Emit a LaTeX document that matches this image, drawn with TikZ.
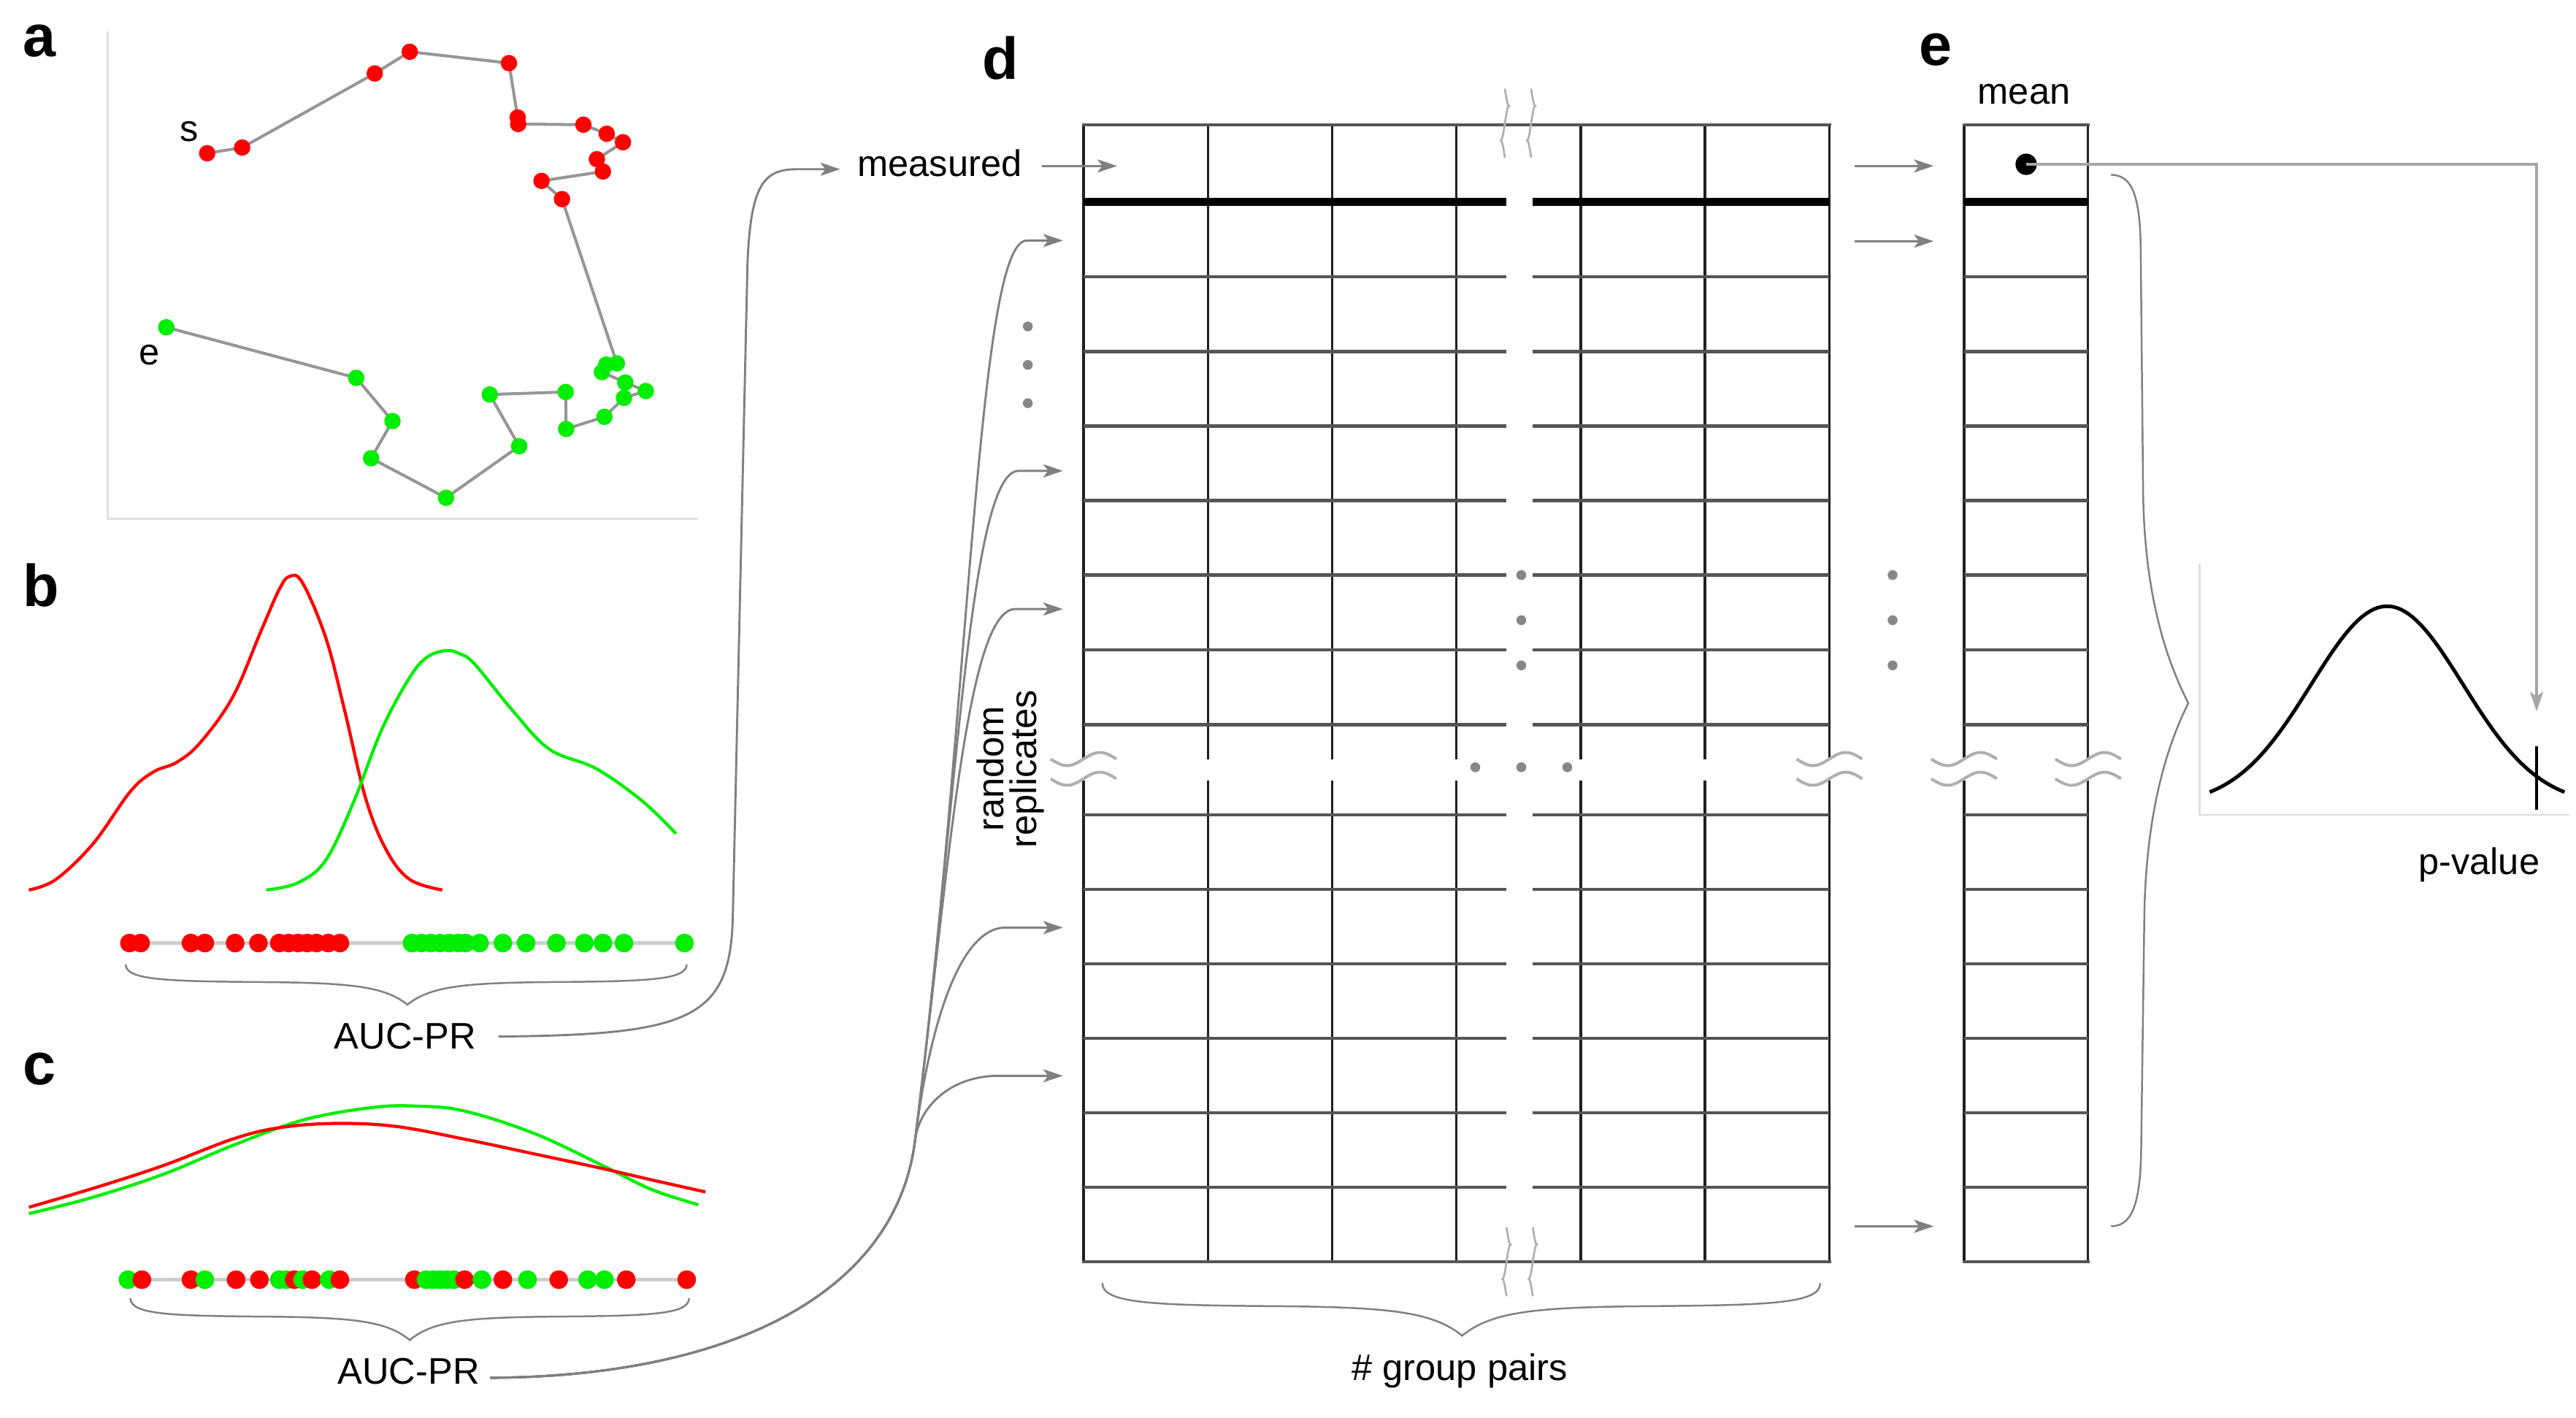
\documentclass[tikz,border=0pt]{standalone}
\usepackage{fontspec}
\setmainfont{Liberation Sans}
\usetikzlibrary{arrows.meta}
\definecolor{pred}{RGB}{255,0,0}
\definecolor{pgreen}{RGB}{0,238,0}
\definecolor{conng}{RGB}{128,128,128}
\definecolor{rowg}{RGB}{85,85,85}
\definecolor{axisg}{RGB}{222,222,222}
\definecolor{dotg}{RGB}{135,135,135}
\definecolor{trailg}{RGB}{150,150,150}
\definecolor{waveg}{RGB}{175,175,175}
\definecolor{lineg}{RGB}{205,205,205}
\definecolor{meang}{RGB}{165,165,165}
\newcommand{\mybrace}[5]{%
  \draw[brc] (#1,#4) .. controls (#1,{#4+0.4*#5}) and ({#1+0.15*(#2-#1)},{#4+0.42*#5}) .. ({(#1+#2)/2},{#4+0.44*#5})
    .. controls ({#2-0.2*(#2-#1)},{#4+0.46*#5}) and ({#2-0.08*(#2-#1)},{#4+0.55*#5}) .. (#2,{#4+#5})
    .. controls ({#2+0.08*(#3-#2)},{#4+0.55*#5}) and ({#2+0.2*(#3-#2)},{#4+0.46*#5}) .. ({(#2+#3)/2},{#4+0.44*#5})
    .. controls ({#3-0.15*(#3-#2)},{#4+0.42*#5}) and (#3,{#4+0.4*#5}) .. (#3,#4);}
\newcommand{\hwave}[2]{\draw[wav] ({#1-20},#2) sin ({#1-10},{#2+4}) cos (#1,#2) sin ({#1+10},{#2-4}) cos ({#1+20},#2);}
\newcommand{\vwave}[3]{\draw[wav,line width=1.2pt] (#1,#2) sin ({#1+2.5},{(3*#2+#3)/4}) cos (#1,{(#2+#3)/2}) sin ({#1-2.5},{(#2+3*#3)/4}) cos (#1,#3);}
\begin{document}
\begin{tikzpicture}[x=1pt,y=-1pt,
  txt/.style={font=\fontsize{22.5}{23}\selectfont, inner sep=0pt, anchor=base},
  plabel/.style={font=\fontsize{36}{40}\selectfont\bfseries, inner sep=0pt, anchor=base},
  conn/.style={draw=conng, line width=1.3pt},
  arr/.style={conn, -{Stealth[length=12pt,width=8pt,inset=3pt]}},
  marr/.style={draw=meang, line width=1.4pt, -{Stealth[length=12pt,width=8pt,inset=3pt]}},
  brc/.style={draw=conng, line width=1.1pt},
  vln/.style={draw=black!88, line width=1.5pt},
  hln/.style={draw=rowg, line width=2.1pt},
  bln/.style={draw=black, line width=5pt},
  wav/.style={draw=waveg, line width=1.8pt},
  gdot/.style={fill=dotg},
  trail/.style={draw=trailg, line width=1.8pt},
  dens/.style={line width=1.9pt},
  axl/.style={draw=axisg, line width=1.3pt},
]
\useasboundingbox (0,0) rectangle (1568,863);

% panel labels
\node[plabel] (la) at (24,34.5) {a};
\node[plabel] (lb) at (25,369) {b};
\node[plabel] (lc) at (24,660) {c};
\node[plabel] (ld) at (609,48) {d};
\node[plabel] (le) at (1178,39.6) {e};

% ---------- panel a ----------
\draw[axl] (65.7,18.9) -- (65.7,315.6) -- (425,315.6);
\draw[trail] (126.1,93.3) -- (147.4,89.8) -- (228.1,44.7) -- (249.4,31.5) -- (309.8,38.4) -- (315.1,71.5) -- (315.4,75.5) -- (355.1,75.9) -- (369.3,81.4) -- (379.2,86.6) -- (363.3,96.9) -- (367,104.4) -- (329.6,110.1) -- (342.1,121.2)
  -- (375.5,221.2) -- (369,221.9) -- (366.4,226.5) -- (380.6,232.8) -- (393.1,238) -- (379.8,242.2) -- (367.9,253.7) -- (344.6,261.1) -- (344.3,238.6) -- (298.1,240.1) -- (316,271.6) -- (271.5,303) -- (225.9,278.9) -- (238.9,256.3) -- (216.8,230) -- (101.2,199.2);
\foreach \x/\y in {126.1/93.3, 147.4/89.8, 228.1/44.7, 249.4/31.5, 309.8/38.4, 315.1/71.5, 315.4/75.5, 355.1/75.9, 369.3/81.4, 379.2/86.6, 363.3/96.9, 367/104.4, 329.6/110.1, 342.1/121.2}
  \fill[pred] (\x,\y) circle (5pt);
\foreach \x/\y in {375.5/221.2, 369/221.9, 366.4/226.5, 380.6/232.8, 393.1/238, 379.8/242.2, 367.9/253.7, 344.6/261.1, 344.3/238.6, 298.1/240.1, 316/271.6, 271.5/303, 225.9/278.9, 238.9/256.3, 216.8/230, 101.2/199.2}
  \fill[pgreen] (\x,\y) circle (5pt);
\node[txt] (slab) at (115,86.2) {s};
\node[txt] (elab) at (90.7,222.2) {e};

% ---------- panel b ----------
\draw[pred,dens] plot[smooth, tension=0.6] coordinates {(17.6,541.7) (34,535.3) (56.7,513.5) (79.4,481.7) (93.5,469.8) (107.7,463.9) (121.9,452) (141.7,424.2) (158.7,384.5) (170,358.7) (176.3,350.8) (184.2,354.8) (198.4,388.5) (209.7,432.1) (222.5,485.7) (235.2,517.5) (249.4,535.3) (269.2,541.7)};
\draw[pgreen,dens] plot[smooth, tension=0.6] coordinates {(162.1,541.7) (181.4,537.3) (198.4,523.4) (215.4,487.7) (232.4,444) (249.4,412.3) (260,400) (271.5,396) (280,398) (289.1,404.4) (311.7,432.1) (334.4,456) (362.8,467.8) (391.1,487.7) (411.5,507.5)};
\draw[draw=lineg, line width=2pt] (79,574) -- (417,574);
\foreach \x in {78.8, 85.6, 116.2, 124.7, 143.1, 157.3, 170, 175.7, 181.4, 187, 192.7, 199.8, 206.9}
  \fill[pred] (\x,574) circle (5.7pt);
\foreach \x in {250.8, 256.5, 262.1, 267.8, 273.5, 279.1, 283.4, 291.9, 306.1, 320.2, 338.7, 355.7, 367, 379.8, 416.6}
  \fill[pgreen] (\x,574) circle (5.7pt);
\mybrace{76.5}{248}{418}{587}{24.5}
\node[txt] (aucb) at (246.6,638.5) {AUC-PR};

% ---------- panel c ----------
\draw[pgreen,dens] plot[smooth, tension=0.6] coordinates {(17.6,738.7) (56.7,728.7) (99.2,714.8) (141.7,697.2) (184.2,681.8) (226.7,674.1) (255.1,673.3) (283.4,676.4) (325.9,690.2) (368.4,710.2) (396.8,724.1) (425.1,733.3)};
\draw[pred,dens] plot[smooth, tension=0.6] coordinates {(17.6,734.8) (56.7,723.3) (99.2,709.5) (141.7,693.3) (170,686.4) (204,683.8) (240.9,685.6) (283.4,693.5) (325.9,702.5) (365.6,711) (396.8,718.2) (429.4,725.5)};
\draw[draw=lineg, line width=2pt] (79.4,778.9) -- (418.9,778.9);
\foreach \col/\x in {pgreen/77.9, pred/86.4, pred/116.2, pgreen/124.7, pred/143.7, pred/157.9, pgreen/170, pgreen/174.3, pred/179.1, pgreen/184.2, pred/189.9, pgreen/200.4, pred/206.9, pred/252.2, pgreen/259.3, pgreen/263.6, pgreen/267.8, pgreen/272.1, pgreen/276.3, pred/282.8, pgreen/293.3, pred/306.1, pgreen/321.1, pred/340.1, pgreen/357.7, pgreen/367.9, pred/381.2, pred/418.0}
  \fill[\col] (\x,778.9) circle (5.7pt);
\mybrace{79.4}{249.4}{419.4}{790.2}{25.5}
\node[txt] (aucc) at (248.7,842.5) {AUC-PR};

% ---------- panel d ----------
\foreach \x in {659.5,735.2,810.8,886.5,962.2,1037.8,1113.5} {
  \draw[vln] (\x,76) -- (\x,462);
  \draw[vln] (\x,475) -- (\x,768);
}
\foreach \y in {168.4,213.9,259.3,304.7,350.1,395.6,441,496,541.3,586.7,632,677.3,722.7} {
  \draw[hln] (659.5,\y) -- (917,\y);
  \draw[hln] (933,\y) -- (1113.5,\y);
}
\draw[bln] (659.5,123) -- (917,123);
\draw[bln] (933,123) -- (1113.5,123);
\draw[hln] (658.5,76) -- (1114.5,76);
\draw[hln] (658.5,768) -- (1114.5,768);
\mybrace{671}{890}{1108}{781}{32}

% ---------- panel e column ----------
\foreach \x in {1195.5,1271} {
  \draw[vln] (\x,76) -- (\x,462);
  \draw[vln] (\x,475) -- (\x,768);
}
\foreach \y in {168.4,213.9,259.3,304.7,350.1,395.6,441,496,541.3,586.7,632,677.3,722.7}
  \draw[hln] (1195.5,\y) -- (1271,\y);
\draw[bln] (1195.5,123) -- (1271,123);
\draw[hln] (1194.5,76) -- (1272,76);
\draw[hln] (1194.5,768) -- (1272,768);

% break marks
\foreach \x in {659.5,1113.5,1195.5,1271} {\hwave{\x}{462}\hwave{\x}{474}}
\vwave{916}{54}{96}
\vwave{932}{54}{96}
\vwave{917}{747}{789}
\vwave{933}{747}{789}

% ellipsis dots
\foreach \y in {198.7,222.1,245.4} \fill[gdot] (625.6,\y) circle (3pt);
\foreach \y in {350,377.5,405} {\fill[gdot] (926,\y) circle (3pt); \fill[gdot] (1152,\y) circle (3pt);}
\foreach \x in {898,926,954} \fill[gdot] (\x,467) circle (3pt);

% texts
\node[txt] (meas) at (572,107.5) {measured};
\node[txt] (mean) at (1232,63.4) {mean};
\node[txt] (gp) at (888.5,840) {\# group pairs};
\node[txt] (pv) at (1509,532) {p-value};
\node[txt, anchor=center, rotate=90, align=center, font=\fontsize{22.5}{20}\selectfont] (rr) at (615,468) {random\\replicates};

% named connector ends
\coordinate (measL) at (634,101);
\coordinate (row0) at (680,101);
\coordinate (aucbR) at (303.4,630.9);
\coordinate (measIn) at (511.4,103);
\coordinate (fanA) at (298.4,838.6);
\coordinate (fanB) at (557,694);

% b connector -> measured
\draw[arr] (aucbR) .. controls (420,630) and (444,620) .. (446,560) -- (455,160) .. controls (457,112) and (465,103) .. (485,103) -- (measIn);
\draw[arr] (measL) -- (row0);

% c connector fan -> random replicates
\draw[arr] (fanA) .. controls (440,838) and (545,790) .. (fanB) .. controls (591,422) and (595,146.4) .. (625,146.4) -- (647,146.4);
\draw[arr] (fanA) .. controls (440,838) and (545,790) .. (fanB) .. controls (582.5,490) and (590,286.6) .. (620,286.6) -- (647,286.6);
\draw[arr] (fanA) .. controls (440,838) and (545,790) .. (fanB) .. controls (577.3,532) and (588,370.7) .. (618,370.7) -- (647,370.7);
\draw[arr] (fanA) .. controls (440,838) and (545,790) .. (fanB) .. controls (565,629) and (583,564.6) .. (612,564.6) -- (647,564.6);
\draw[arr] (fanA) .. controls (440,838) and (545,790) .. (fanB) .. controls (559.5,674) and (578,654.8) .. (608,654.8) -- (647,654.8);

% d -> e arrows
\draw[arr] (1129,101) -- (1177,101);
\draw[arr] (1129,146.8) -- (1177,146.8);
\draw[arr] (1129,746.4) -- (1177,746.4);

% right brace
\draw[brc] (1285,106.4) .. controls (1296,106.6) and (1302.5,115) .. (1303,150) -- (1304.5,300) .. controls (1305.5,370) and (1322,408) .. (1332,428) .. controls (1322,448) and (1306,488) .. (1305.2,560) -- (1303.3,700) .. controls (1302.8,737) and (1296,746.2) .. (1285,746.4);

% p-value plot
\draw[axl] (1339,343) -- (1339,496) -- (1564,496);
\draw[black, line width=2.2pt, domain=1345:1561, samples=90] plot (\x, {490-121*exp(-((\x-1453)/65.36)^2)});
\draw[black, line width=2pt] (1544,454) -- (1544,493);

% mean dot and arrow to plot
\node[circle, fill=black, minimum size=13pt, inner sep=0pt] (meandot) at (1233.3,100) {};
\coordinate (pvArr) at (1544,433);
\draw[marr] (meandot.center) -| (pvArr);
\end{tikzpicture}
\end{document}
